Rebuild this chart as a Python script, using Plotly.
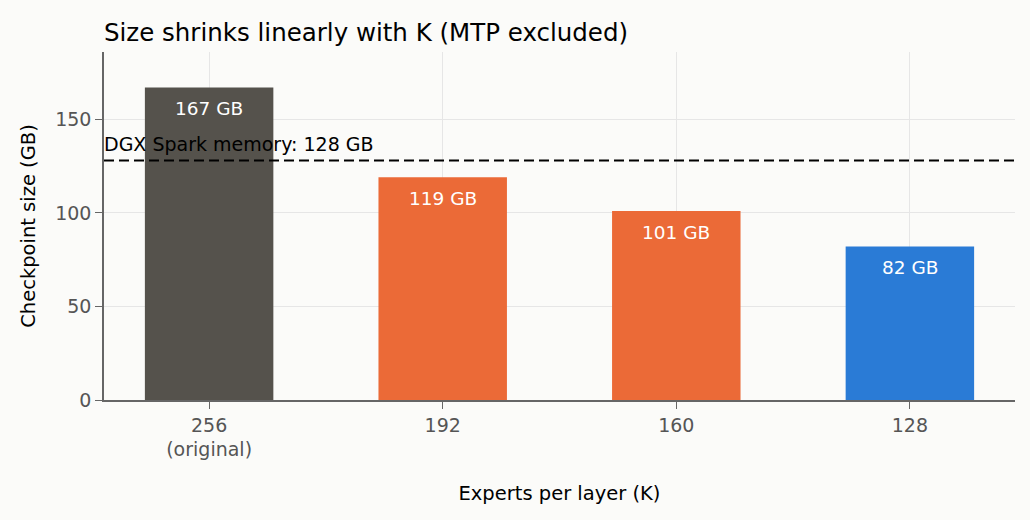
import plotly.graph_objects as go

categories = ["256<br>(original)", "192", "160", "128"]
sizes_gb = [167, 119, 101, 82]
bar_colors = ["#55524c", "#eb6a37", "#eb6a37", "#2a7bd6"]
memory_limit = 128

FONT = "DejaVu Sans, Liberation Sans, Arial, sans-serif"
BG = "#fbfbf9"

fig = go.Figure()

fig.add_trace(
    go.Bar(
        x=categories,
        y=sizes_gb,
        width=0.55,
        marker=dict(color=bar_colors, line=dict(width=0)),
        hoverinfo="skip",
    )
)

# value labels just below the top of each bar (x by category index)
for i, v in enumerate(sizes_gb):
    fig.add_annotation(
        x=i,
        y=v,
        text=f"{v} GB",
        showarrow=False,
        yanchor="middle",
        yshift=-21,
        font=dict(size=18.5, color="white", family=FONT),
    )

# memory limit line
fig.add_hline(y=memory_limit, line=dict(color="black", width=1.8, dash="10px,5px"))
fig.add_annotation(
    x=0,
    xref="paper",
    y=memory_limit,
    yref="y",
    text=f"DGX Spark memory: {memory_limit} GB",
    showarrow=False,
    xanchor="left",
    yanchor="bottom",
    yshift=4,
    xshift=-2,
    font=dict(size=19, color="black", family=FONT),
)

fig.update_layout(
    width=1030,
    height=520,
    paper_bgcolor=BG,
    plot_bgcolor=BG,
    font=dict(family=FONT, size=18, color="#555555"),
    title=dict(
        text="Size shrinks linearly with K (MTP excluded)",
        x=104 / 1030,
        xanchor="left",
        xref="container",
        y=1 - 32 / 520,
        yref="container",
        yanchor="middle",
        font=dict(size=24.5, color="black"),
    ),
    margin=dict(l=104, r=15, t=52, b=120),
    showlegend=False,
)

fig.update_xaxes(
    title=dict(text="Experts per layer (K)", font=dict(size=19.5, color="black"), standoff=27),
    range=[-0.45, 3.45],
    showgrid=True,
    gridcolor="#e6e6e6",
    showline=True,
    linecolor="#666666",
    linewidth=1.5,
    ticks="outside",
    ticklen=7,
    tickcolor="#666666",
    tickfont=dict(size=19, color="#555555"),
)
fig.update_yaxes(
    title=dict(text="Checkpoint size (GB)", font=dict(size=19.5, color="black"), standoff=14),
    range=[0, 186],
    tickvals=[0, 50, 100, 150],
    showgrid=True,
    gridcolor="#e6e6e6",
    zeroline=False,
    showline=True,
    linecolor="#666666",
    linewidth=1.5,
    ticks="outside",
    ticklen=7,
    tickcolor="#666666",
    tickfont=dict(size=19, color="#555555"),
)

fig.write_html(
    "out.html",
    config={"displayModeBar": False},
    post_script="document.body.style.margin='0';",
)
